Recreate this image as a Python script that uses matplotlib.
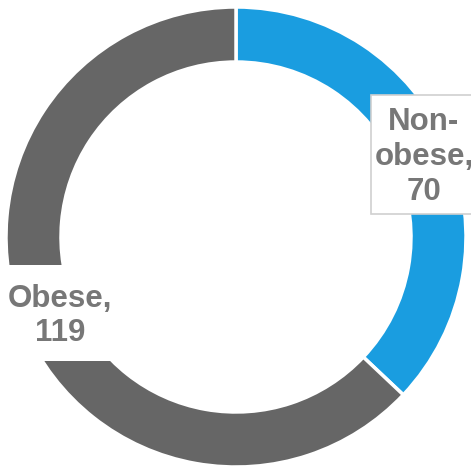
import matplotlib.pyplot as plt
from matplotlib.patches import Rectangle

labels = ['Non-\nobese,\n70', 'Obese,\n119']
values = [70, 119]
colors = ['#1a9de0', '#666666']

W, H = 471, 466
fig = plt.figure(figsize=(W / 100, H / 100), dpi=100)
ax = fig.add_axes([0, 0, 1, 1])

# donut, clockwise from 12 o'clock
ax.pie(values, colors=colors, startangle=90, counterclock=False,
       center=(236, H - 237), radius=230, frame=True,
       wedgeprops=dict(width=55, edgecolor='white', linewidth=2.5))
ax.set_xlim(0, W)
ax.set_ylim(0, H)
ax.set_aspect('equal')
ax.axis('off')

# label boxes
ax.add_patch(Rectangle((371, H - 214), 110, 119, facecolor='white',
                       edgecolor='#d0d0d0', linewidth=1.2, zorder=3))
ax.add_patch(Rectangle((-5, H - 361), 127, 96, facecolor='white',
                       edgecolor='none', zorder=3))

font = dict(family=['Liberation Sans', 'DejaVu Sans'], fontsize=22.5,
            fontweight='bold', color='#777777', ha='center', va='center',
            linespacing=1.2, zorder=4)
ax.text(424, H - 157, labels[0], **font)
ax.text(60, H - 316, labels[1], **font)

fig.savefig('out.png', dpi=100)
